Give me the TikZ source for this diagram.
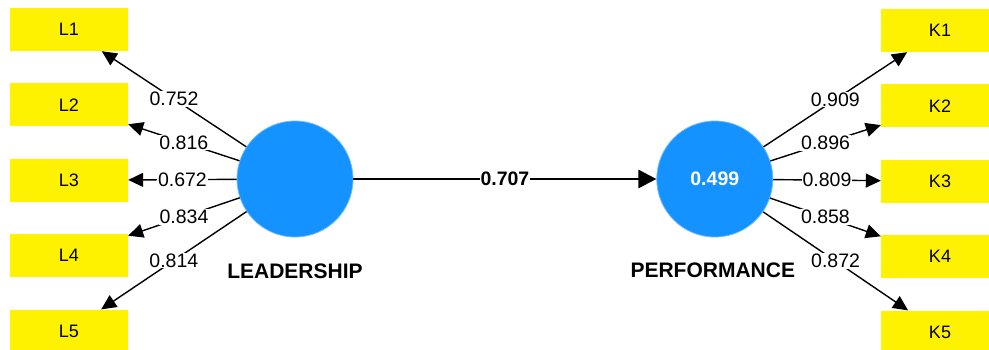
\documentclass[tikz,border=0pt]{standalone}
\usepackage{fontspec}
\setmainfont{Liberation Sans}
\usetikzlibrary{arrows.meta, positioning}
\definecolor{plsblue}{RGB}{20,146,255}
\definecolor{plsrim}{RGB}{110,185,255}

\begin{document}
\begin{tikzpicture}[x=1pt, y=-1pt, node distance=32pt, >={Triangle[length=15pt, width=14pt]}]
        \tikzstyle{item} = [rectangle, fill=yellow, minimum width=118pt, minimum height=43pt, inner sep=0pt, font=\fontsize{18}{20}\selectfont]
        \tikzstyle{latent} = [circle, fill=plsblue, draw=plsrim, line width=0.8pt, minimum size=116pt, inner sep=0pt, text=white, font=\fontsize{19.5}{22}\selectfont\bfseries]
        \tikzstyle{lvname} = [inner sep=0pt, font=\fontsize{21}{24}\selectfont\bfseries]
        \tikzstyle{load} = [draw, line width=1.4pt, ->]
        \tikzstyle{coef} = [midway, fill=white, inner sep=1pt, font=\fontsize{19.5}{22}\selectfont]

        \useasboundingbox (0,0) rectangle (989,350);

        % indicators of leadership
        \node [item] (L1) at (69,29.5) {L1};
        \node [item, below=of L1] (L2) {L2};
        \node [item, below=of L2] (L3) {L3};
        \node [item, below=of L3] (L4) {L4};
        \node [item, below=of L4] (L5) {L5};

        % indicators of performance
        \node [item] (K1) at (940,30.5) {K1};
        \node [item, below=of K1] (K2) {K2};
        \node [item, below=of K2] (K3) {K3};
        \node [item, below=of K3] (K4) {K4};
        \node [item, below=of K4] (K5) {K5};

        % latent variables
        \node [latent] (lead) at (295,179) {};
        \node [latent, right=303pt of lead] (perf) {0.499};
        \node [lvname, below=26pt of lead] (leadname) {LEADERSHIP};
        \node [lvname, below=25pt of perf, xshift=-2pt] (perfname) {PERFORMANCE};

        \draw [load] (lead) -- node [coef] {0.752} (L1);
        \draw [load] (lead) -- node [coef] {0.816} (L2);
        \draw [load] (lead) -- node [coef] {0.672} (L3);
        \draw [load] (lead) -- node [coef] {0.834} (L4);
        \draw [load] (lead) -- node [coef] {0.814} (L5);

        \draw [load] (perf) -- node [coef] {0.909} (K1);
        \draw [load] (perf) -- node [coef] {0.896} (K2);
        \draw [load] (perf) -- node [coef] {0.809} (K3);
        \draw [load] (perf) -- node [coef] {0.858} (K4);
        \draw [load] (perf) -- node [coef] {0.872} (K5);

        \draw [line width=2.8pt, -{Triangle[length=18pt, width=18pt]}] (lead) -- node [coef, font=\fontsize{19.5}{22}\selectfont\bfseries] {0.707} (perf);
    \end{tikzpicture}
\end{document}
